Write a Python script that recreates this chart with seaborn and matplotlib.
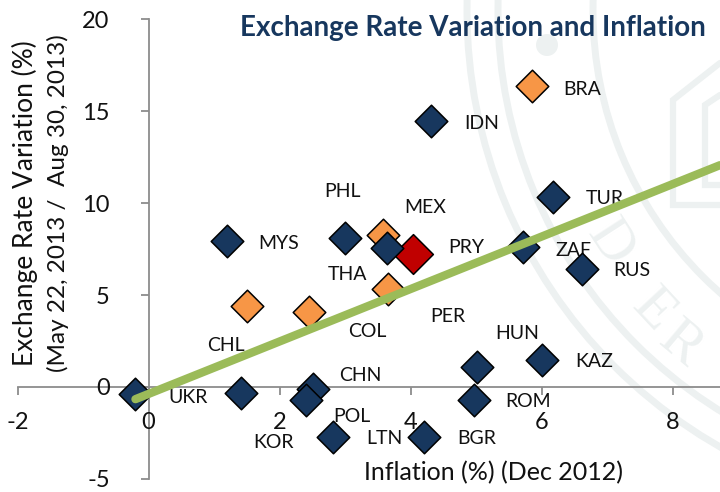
import numpy as np
import pandas as pd
import seaborn as sns
import matplotlib.pyplot as plt
from matplotlib.patches import Arc, Circle

inflation = [-0.2, 1.2, 1.5, 2.45, 2.51, 2.41, 2.81, 3.0, 3.58, 3.66, 1.41, 4.04, 4.21,
             4.31, 4.96, 5.01, 5.85, 5.71, 6.01, 6.17, 6.61]
fx_change = [-0.37, 7.95, 4.39, 4.1, -0.09, -0.72, -2.72, 8.1, 8.26, 5.32, -0.33, 7.22, -2.72,
             14.46, -0.71, 1.07, 16.38, 7.6, 1.47, 10.34, 6.42]
groups = ['blue', 'blue', 'orange', 'orange', 'blue', 'blue', 'blue', 'blue', 'orange', 'orange', 'blue', 'red', 'blue',
          'blue', 'blue', 'blue', 'orange', 'blue', 'blue', 'blue', 'blue']
# the blue one that sits on top of the red diamond
top_x = [3.64]
top_y = [7.55]

fit_x = [-0.2, 8.72]
fit_y = [-0.67, 12.07]

label_names = ['UKR', 'CHL', 'KOR', 'POL', 'CHN', 'COL', 'THA', 'PHL', 'MYS', 'MEX', 'PRY', 'ZAF', 'TUR',
               'IDN', 'BRA', 'RUS', 'KAZ', 'HUN', 'PER', 'ROM', 'BGR', 'LTN']
label_x = [0.6, 1.18, 1.9, 3.11, 3.23, 3.34, 3.03, 2.96, 1.99, 4.22, 4.85, 6.48, 6.96,
           5.08, 6.61, 7.38, 6.8, 5.62, 4.57, 5.79, 5.0, 3.6]
label_y = [-0.6, 2.24, -3.05, -1.64, 0.64, 2.99, 6.09, 10.61, 7.78, 9.74, 7.56, 7.45, 10.23,
           14.36, 16.21, 6.31, 1.36, 2.93, 3.81, -0.82, -2.83, -2.83]

x_ticks = [-2, 0, 2, 4, 6, 8]
y_ticks = [-5, 0, 5, 10, 15, 20]

df = pd.DataFrame({'inflation': inflation, 'fx': fx_change, 'group': groups})

sns.set_theme(style='white')
plt.rcParams['font.family'] = ['Lato', 'DejaVu Sans']
plt.rcParams['axes.unicode_minus'] = False

navy = '#17375e'
orange = '#f79646'
red = '#c00000'
green = '#9bbb59'
grey = '#8c8c8c'
mark = '#edf1f1'

fig = plt.figure(figsize=(7.2, 4.92), dpi=100)

# seal in the background, pixel coords
bg = fig.add_axes([0, 0, 1, 1], zorder=0)
bg.set_xlim(0, 720)
bg.set_ylim(492, 0)
bg.axis('off')
for r in [502, 471, 376]:
    bg.add_patch(Arc((969, 11), 2 * r, 2 * r, color=mark, lw=5))
bg.add_patch(Circle((547, 45), 11, color=mark, lw=0))
bg.plot([720, 673, 673, 720], [63, 100, 205, 205], color=mark, lw=4.5, solid_joinstyle='miter')
bg.plot([720, 705, 705, 720], [95, 105, 185, 185], color=mark, lw=4.5, solid_joinstyle='miter')
for letter, lx, ly, rot in [('D', 610, 243, -57), ('E', 653, 310, -47), ('R', 680, 345, -40)]:
    bg.text(lx, ly, letter, fontsize=42, color=mark, family='Liberation Serif', rotation=rot,
            ha='center', va='center')

ax = fig.add_axes([17.5 / 720, 1 - 478.7 / 492, 702.5 / 720, 459.2 / 492], zorder=1)
ax.patch.set_alpha(0)

sns.lineplot(x=fit_x, y=fit_y, color=green, linewidth=6, ax=ax, zorder=7, solid_capstyle='round')

# drawn in groups so the overlaps stack like the original
for group, color, size, z in [('orange', orange, 275, 3), ('red', red, 410, 4), ('blue', navy, 275, 5)]:
    sub = df[df['group'] == group]
    sns.scatterplot(data=sub, x='inflation', y='fx', marker='D', color=color, s=size,
                    edgecolor='black', linewidth=1.1, ax=ax, zorder=z, clip_on=False)
sns.scatterplot(x=top_x, y=top_y, marker='D', color=navy, s=275, edgecolor='black',
                linewidth=1.1, ax=ax, zorder=6)

for name, lx, ly in zip(label_names, label_x, label_y):
    ax.text(lx, ly, name, fontsize=14, color='#111111', ha='center', va='center', zorder=1.5)

ax.set_xlim(-2, 8.72)
ax.set_ylim(-5, 20)
ax.set_xticks(x_ticks)
ax.set_yticks(y_ticks)
ax.spines['top'].set_visible(False)
ax.spines['right'].set_visible(False)
ax.spines['left'].set_position(('data', 0))
ax.spines['bottom'].set_position(('data', 0))
for side in ['left', 'bottom']:
    ax.spines[side].set_color(grey)
    ax.spines[side].set_linewidth(1.3)
ax.tick_params(axis='both', length=6, width=1.3, color=grey, labelsize=17, labelcolor='#111111',
               bottom=True, left=True)
ax.tick_params(axis='x', pad=12)
ax.tick_params(axis='y', pad=22)
ax.set_axisbelow(False)

ax.set_xlabel('')
ax.set_ylabel('')
fig.text(493 / 720, 1 - 473 / 492, 'Inflation (%) (Dec 2012)', fontsize=18, color='#111111', ha='center', va='center')
fig.text(25 / 720, 1 - 203 / 492, 'Exchange Rate Variation (%)', fontsize=19, color='#111111',
         ha='center', va='center', rotation=90)
fig.text(58 / 720, 1 - 203 / 492, '(May 22, 2013 /  Aug 30, 2013)', fontsize=17.5, color='#111111',
         ha='center', va='center', rotation=90)
fig.text(473 / 720, 1 - 28 / 492, 'Exchange Rate Variation and Inflation', fontsize=20, fontweight='bold',
         color=navy, ha='center', va='center')

fig.savefig('out.png', dpi=100)
